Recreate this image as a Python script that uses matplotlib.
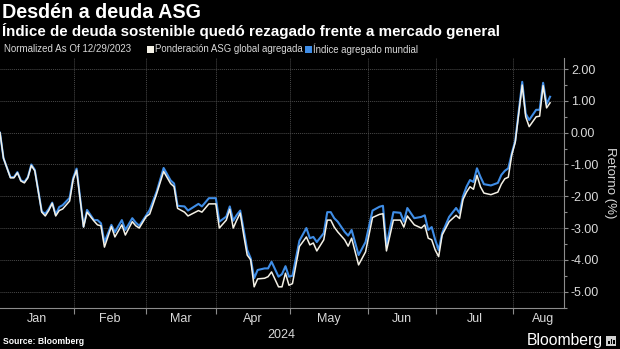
"""Bloomberg-style chart: ESG-weighted global aggregate vs global aggregate returns, 2024."""

import matplotlib.pyplot as plt
from matplotlib.patches import Rectangle
from matplotlib.ticker import FixedLocator, MultipleLocator, FuncFormatter

# trading-session number since 12/29/2023 (turning points of both series)
session = [
    0, 1, 3, 4, 5, 6, 7, 8, 9, 10, 12, 13, 14, 15, 16, 17, 18, 20, 21, 22,
    24, 25, 27, 28, 29, 30, 32, 33, 35, 36, 38, 39, 40, 42, 43, 45, 47, 49, 50, 51,
    53, 54, 57, 58, 60, 62, 63, 65, 66, 67, 68, 69, 70, 71, 72, 73, 74, 76, 77, 78,
    80, 81, 82, 83, 84, 86, 88, 89, 90, 91, 93, 94, 95, 96, 97, 99, 100, 101, 103, 105,
    107, 109, 110, 111, 113, 115, 116, 117, 119, 121, 122, 123, 124, 125, 126, 127, 129, 131, 132, 133,
    134, 135, 136, 137, 138, 139, 141, 143, 144, 145, 146, 147, 148, 150, 151, 152, 154, 155, 156, 157,
    158,
]

# Índice agregado mundial (%)
global_agg = [
    0.00, -0.80, -1.40, -1.40, -1.24, -1.50, -1.55, -1.40, -1.00, -1.17,
    -2.48, -2.55, -2.40, -2.20, -2.58, -2.34, -2.28, -2.05, -1.43, -1.13,
    -2.95, -2.43, -2.75, -2.75, -2.85, -3.45, -2.90, -3.13, -2.75, -3.06,
    -2.69, -2.83, -2.93, -2.60, -2.43, -1.85, -1.11, -1.50, -1.60, -2.30,
    -2.32, -2.45, -2.24, -2.32, -2.06, -2.06, -2.80, -2.64, -2.32, -2.77,
    -2.59, -2.45, -3.06, -3.69, -3.95, -4.58, -4.32, -4.27, -4.27, -4.06,
    -4.53, -4.45, -4.20, -4.53, -4.50, -3.40, -3.00, -3.32, -3.28, -3.44,
    -3.16, -2.50, -2.50, -2.69, -2.80, -3.12, -3.24, -3.06, -3.85, -3.44,
    -2.45, -2.33, -2.30, -3.55, -2.50, -2.52, -2.80, -2.37, -2.69, -2.65,
    -2.60, -3.06, -2.97, -3.37, -3.69, -3.16, -2.65, -2.37, -2.53, -2.00,
    -1.70, -1.49, -1.55, -1.12, -1.39, -1.62, -1.66, -1.58, -1.33, -1.20,
    -1.12, -0.65, -0.25, 1.60, 0.60, 0.40, 0.72, 0.72, 1.57, 0.90,
    1.13,
]

# Ponderación ASG global agregada (%)
esg_weighted = [
    0.00, -0.80, -1.42, -1.42, -1.26, -1.52, -1.58, -1.42, -1.03, -1.20,
    -2.50, -2.62, -2.45, -2.22, -2.62, -2.45, -2.40, -2.15, -1.48, -1.18,
    -2.97, -2.50, -2.78, -2.90, -2.93, -3.60, -2.95, -3.28, -2.90, -3.22,
    -2.80, -2.93, -3.00, -2.64, -2.56, -1.92, -1.22, -1.60, -1.70, -2.38,
    -2.50, -2.62, -2.45, -2.50, -2.24, -2.24, -3.00, -2.75, -2.41, -3.00,
    -2.75, -2.53, -3.22, -3.85, -4.00, -4.85, -4.60, -4.58, -4.53, -4.38,
    -4.85, -4.85, -4.42, -4.80, -4.75, -3.58, -3.28, -3.53, -3.47, -3.72,
    -3.37, -2.75, -2.75, -2.97, -3.12, -3.37, -3.57, -3.32, -4.16, -3.75,
    -2.67, -2.57, -2.55, -3.72, -2.75, -2.75, -2.97, -2.62, -2.90, -3.00,
    -2.90, -3.32, -3.37, -3.69, -3.90, -3.22, -2.80, -2.60, -2.70, -2.10,
    -1.87, -1.70, -1.78, -1.34, -1.70, -1.90, -1.95, -1.87, -1.62, -1.45,
    -1.40, -0.70, -0.30, 1.50, 0.50, 0.19, 0.50, 0.52, 1.48, 0.78,
    0.94,
]

month_names = ["Jan", "Feb", "Mar", "Apr", "May", "Jun", "Jul", "Aug"]
month_starts = [21.3, 41.8, 62.1, 83.3, 105.7, 125.3, 147.4]

W, H = 620, 349
BG = "black"
TXT = "#d9d9d9"
GRID = "#4a4a4a"
SPINE = "#8c8c8c"
BLUE = "#3f8de6"
WHITE = "#f4f1e6"
NARROW = ["Liberation Sans Narrow", "Liberation Sans", "DejaVu Sans"]
SANS = ["Liberation Sans", "DejaVu Sans"]


def fx(px):
    return px / W


def fy(py):
    return 1 - py / H


fig = plt.figure(figsize=(W / 100, H / 100), dpi=100, facecolor=BG)
ax = fig.add_axes([0, fy(307.5), fx(564), (307.5 - 58) / H], facecolor=BG)

ax.plot(session, global_agg, color=BLUE, lw=1.5, solid_joinstyle="round", zorder=3)
ax.plot(session, esg_weighted, color=WHITE, lw=1.1, solid_joinstyle="round", zorder=4)

ax.set_xlim(0, 162)
ax.set_ylim(-5.5, 2.35)

# month boundaries as ticks/grid, names centred in each month
ax.xaxis.set_major_locator(FixedLocator(month_starts))
ax.xaxis.set_major_formatter(FuncFormatter(lambda v, p: ""))
edges = [0] + month_starts
label_pos = [(a + b) / 2 for a, b in zip(edges[:-1], edges[1:])] + [156]
ax.xaxis.set_minor_locator(FixedLocator(label_pos))
ax.set_xticklabels(month_names, minor=True)
ax.tick_params(axis="x", which="major", direction="out", length=4, width=0.8, color=SPINE)
ax.tick_params(axis="x", which="minor", length=0, pad=4, labelsize=9, labelcolor=TXT)
for lab in ax.get_xticklabels(minor=True):
    lab.set_family(NARROW)

ax.yaxis.tick_right()
ax.yaxis.set_label_position("right")
ax.yaxis.set_major_locator(MultipleLocator(1))
ax.yaxis.set_minor_locator(MultipleLocator(0.5))
ax.yaxis.set_major_formatter(FuncFormatter(lambda v, p: f"{v:.2f}"))
ax.tick_params(axis="y", which="major", direction="out", length=3, width=0.8, color=SPINE,
               pad=2, labelsize=9, labelcolor=TXT)
ax.tick_params(axis="y", which="minor", direction="out", length=2, width=0.8, color=SPINE)
for lab in ax.get_yticklabels():
    lab.set_family(NARROW)
ax.set_ylabel("Retorno (%)", rotation=270, labelpad=12, color=TXT, fontsize=9.5, family=NARROW)

ax.grid(which="major", color=GRID, lw=0.7, linestyle=(0, (1, 1)))
for side in ("left", "top"):
    ax.spines[side].set_visible(False)
for side in ("right", "bottom"):
    ax.spines[side].set_color(SPINE)
    ax.spines[side].set_linewidth(0.8)

fig.text(fx(281), fy(335), "2024", ha="center", va="center", color=TXT, fontsize=9, family=NARROW)

# header
fig.text(fx(2), fy(12), "Desdén a deuda ASG", ha="left", va="center", color="white",
         fontsize=14.2, fontweight="bold", family=SANS)
fig.text(fx(2), fy(31), "Índice de deuda sostenible quedó rezagado frente a mercado general",
         ha="left", va="center", color="white", fontsize=10.9, fontweight="bold", family=SANS)

fig.text(fx(4), fy(49), "Normalized As Of 12/29/2023", ha="left", va="center", color=TXT,
         fontsize=7.0, family=NARROW)
fig.patches.append(Rectangle((fx(147), fy(53)), fx(7), 7 / H, transform=fig.transFigure,
                             facecolor=WHITE, edgecolor="none"))
fig.text(fx(155), fy(49), "Ponderación ASG global agregada", ha="left", va="center",
         color=TXT, fontsize=6.9, family=NARROW)
fig.patches.append(Rectangle((fx(305), fy(53)), fx(7), 7 / H, transform=fig.transFigure,
                             facecolor=BLUE, edgecolor="none"))
fig.text(fx(313), fy(49), "Índice agregado mundial", ha="left", va="center",
         color=TXT, fontsize=6.9, family=NARROW)

# footer
fig.text(fx(3), fy(342), "Source: Bloomberg", ha="left", va="center", color="white",
         fontsize=6.2, fontweight="bold", family=SANS)
fig.text(fx(603), fy(341), "Bloomberg", ha="right", va="center", color="white",
         fontsize=11.3, family=SANS)
fig.patches.append(Rectangle((fx(606), fy(346)), fx(10), 10 / H, transform=fig.transFigure,
                             facecolor="#d0d0d0", edgecolor="none"))
for bx, bh in [(608, 3), (610.5, 5), (613, 4)]:
    fig.patches.append(Rectangle((fx(bx), fy(344)), fx(1.5), bh / H, transform=fig.transFigure,
                                 facecolor="black", edgecolor="none"))

fig.savefig("out.png", dpi=100, facecolor=BG)
